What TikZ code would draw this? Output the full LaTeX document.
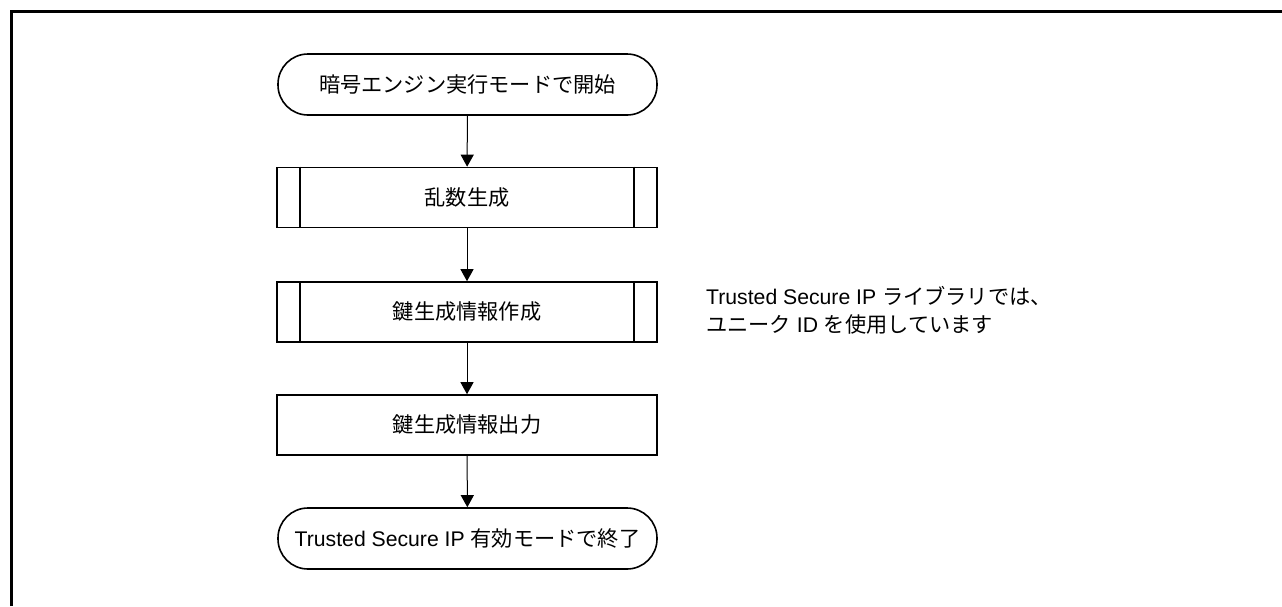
\documentclass[tikz,border=0pt]{standalone}
\usepackage{fontspec}
\setmainfont{Liberation Sans}
\newfontfamily\jp{Noto Sans CJK JP}
\usetikzlibrary{arrows.meta,calc}
\begin{document}
\begin{tikzpicture}[x=1pt,y=-1pt,
  every node/.style={font=\fontsize{21.2}{28}\selectfont, inner sep=0pt},
  term/.style={draw, line width=1.6pt, rounded corners=30pt, minimum width=379pt, minimum height=61pt},
  procbox/.style={draw, line width=1.6pt, minimum width=380pt, minimum height=60pt},
  conn/.style={line width=1pt, -{Triangle[length=12pt,width=13pt]}}
]
\useasboundingbox (0,0) rectangle (1282,606);
\draw[line width=3pt] (11,606) -- (11,11) -- (1282,11);

\node[term] (start) at (467.5,84.5) {\jp 暗号エンジン実行モードで開始};
\node[procbox] (p1) at (467,197.5) {\jp 乱数生成};
\node[procbox] (p2) at (467,312) {\jp 鍵生成情報作成};
\node[procbox] (p3) at (467,425) {\jp 鍵生成情報出力};
\node[term] (stop) at (467.5,538.5) {Trusted Secure IP {\jp 有効モードで終了}};

\foreach \n in {p1,p2}{
  \draw[line width=1.6pt] ($(\n.north west)+(24,0)$) -- ($(\n.south west)+(24,0)$);
  \draw[line width=1.6pt] ($(\n.north east)+(-24,0)$) -- ($(\n.south east)+(-24,0)$);
}

\draw[conn] (start) -- (p1);
\draw[conn] (p1) -- (p2);
\draw[conn] (p2) -- (p3);
\draw[conn] (p3) -- (stop);

\node[anchor=west, align=left] (note) at (706,310.5) {Trusted Secure IP {\jp ライブラリでは、}\\{\jp ユニーク} ID {\jp を使用しています}};
\end{tikzpicture}
\end{document}
